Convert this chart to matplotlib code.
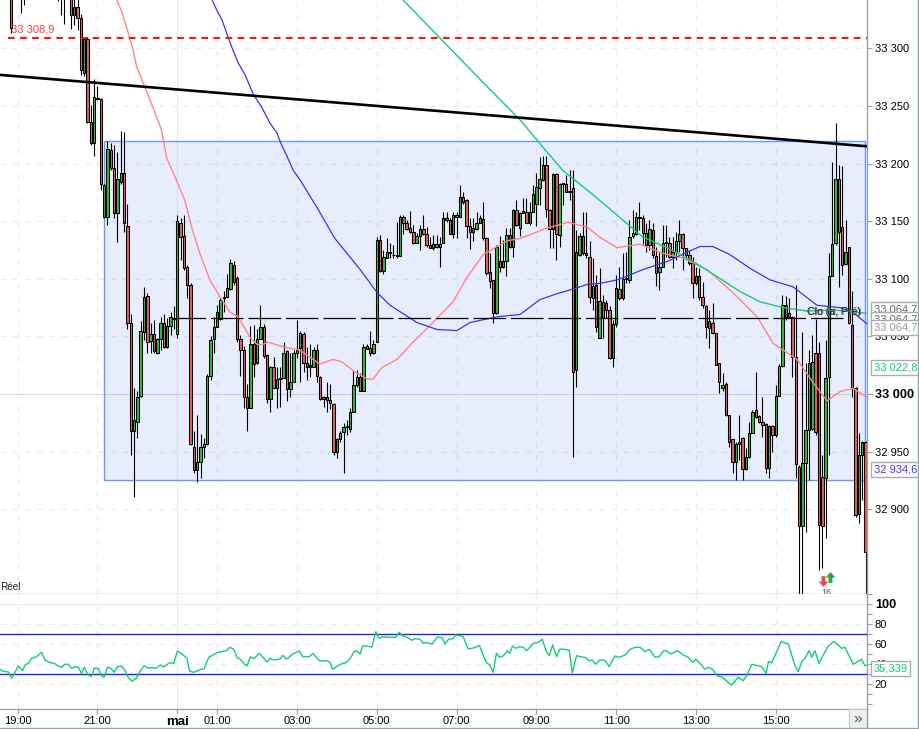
import matplotlib
matplotlib.use("Agg")
import matplotlib.pyplot as plt
from matplotlib.lines import Line2D
from matplotlib.patches import Rectangle
from matplotlib.path import Path
from matplotlib.ticker import FuncFormatter, MultipleLocator

plt.rcParams['font.family'] = ['Liberation Sans', 'DejaVu Sans']

# 5 minute bars, position in list = bar number
opens = [33350, 33355, 33360, 33360, 33360, 33360, 33360, 33360, 33360, 33360,
         33360, 33360, 33360, 33360, 33360, 33360, 33360, 33360, 33350, 33329,
         33336, 33326, 33279, 33308, 33236, 33218, 33257, 33256, 33154, 33154,
         33212, 33196, 33157, 33184, 33192, 33146, 33062, 32968, 32976, 32998,
         33054, 33085, 33046, 33052, 33036, 33048, 33062, 33041, 33059, 33066,
         33052, 33148, 33137, 33110, 33095, 32954, 32934, 32941, 32954, 32957,
         33016, 33048, 33058, 33065, 33083, 33084, 33091, 33112, 33101, 33048,
         33038, 32997, 32988, 33043, 33027, 33048, 33058, 33034, 32996, 33023,
         33005, 33014, 33014, 33037, 33004, 33010, 33036, 33040, 33052, 33027,
         33023, 33023, 33038, 33015, 32996, 32997, 32995, 32991, 32950, 32961,
         32967, 32972, 32970, 32984, 33008, 33015, 33003, 33042, 33040, 33036,
         33045, 33134, 33107, 33118, 33122, 33121, 33121, 33120, 33154, 33148,
         33144, 33141, 33131, 33137, 33143, 33139, 33129, 33127, 33128, 33130,
         33131, 33153, 33151, 33139, 33155, 33154, 33171, 33168, 33146, 33141,
         33143, 33148, 33152, 33135, 33106, 33099, 33070, 33115, 33110, 33115,
         33138, 33128, 33160, 33144, 33157, 33158, 33148, 33158, 33165, 33179,
         33186, 33199, 33160, 33143, 33191, 33138, 33182, 33182, 33175, 33179,
         33021, 33121, 33137, 33122, 33119, 33083, 33095, 33049, 33080, 33079,
         33073, 33031, 33061, 33091, 33083, 33100, 33099, 33137, 33139, 33154,
         33153, 33140, 33129, 33142, 33120, 33106, 33110, 33132, 33131, 33119,
         33123, 33133, 33139, 33127, 33121, 33114, 33096, 33102, 33084, 33076,
         33057, 33062, 33053, 33027, 33005, 33009, 32982, 32961, 32941, 32957,
         32962, 32935, 32945, 32966, 32986, 32981, 32976, 32974, 32936, 32972,
         32964, 32998, 33024, 33077, 33070, 33067, 33032, 32937, 32885, 32940,
         32969, 32970, 33036, 33036, 32928, 32927, 33015, 33102, 33131, 33187,
         33145, 33113, 33128, 33060, 33005, 32896, 32947, 32958]
closes = [33318, 33350, 33355, 33350, 33350, 33355, 33355, 33355, 33355, 33355,
          33355, 33355, 33355, 33355, 33355, 33355, 33355, 33355, 33329, 33336,
          33326, 33281, 33308, 33236, 33218, 33258, 33256, 33182, 33181, 33213,
          33196, 33157, 33187, 33192, 33148, 33062, 32968, 32977, 32997, 33055,
          33084, 33045, 33052, 33037, 33048, 33062, 33041, 33059, 33067, 33065,
          33150, 33136, 33109, 33095, 32957, 32934, 32941, 32954, 32957, 33016,
          33047, 33058, 33071, 33082, 33084, 33092, 33114, 33097, 33048, 33038,
          32997, 32988, 33043, 33026, 33048, 33058, 33033, 32996, 33023, 33005,
          33013, 33013, 33036, 33004, 33010, 33036, 33038, 33053, 33027, 33023,
          33025, 33038, 33016, 32996, 32997, 32995, 32992, 32950, 32961, 32966,
          32971, 32971, 32984, 33008, 33015, 33003, 33041, 33039, 33036, 33043,
          33134, 33107, 33119, 33123, 33123, 33121, 33120, 33154, 33148, 33143,
          33141, 33131, 33137, 33143, 33139, 33129, 33127, 33130, 33130, 33128,
          33153, 33151, 33139, 33155, 33154, 33171, 33167, 33146, 33141, 33144,
          33148, 33153, 33135, 33105, 33098, 33070, 33128, 33110, 33115, 33138,
          33128, 33160, 33147, 33157, 33159, 33148, 33158, 33174, 33180, 33187,
          33199, 33161, 33143, 33191, 33139, 33182, 33183, 33175, 33176, 33019,
          33123, 33137, 33122, 33121, 33084, 33094, 33058, 33081, 33067, 33073,
          33031, 33061, 33092, 33083, 33100, 33101, 33136, 33140, 33154, 33153,
          33140, 33129, 33143, 33121, 33105, 33110, 33131, 33131, 33119, 33123,
          33133, 33139, 33127, 33121, 33114, 33096, 33102, 33084, 33077, 33058,
          33063, 33053, 33025, 33010, 33008, 32982, 32958, 32941, 32957, 32958,
          32935, 32945, 32966, 32984, 32980, 32976, 32973, 32936, 32972, 32964,
          32998, 33024, 33077, 33067, 33067, 33032, 32939, 32885, 32940, 32969,
          33027, 33028, 32967, 32886, 32885, 33014, 33102, 33130, 33187, 33141,
          33112, 33123, 33062, 33005, 32895, 32947, 32958, 32863]
highs = [33360, 33370, 33370, 33370, 33370, 33370, 33370, 33370, 33370, 33370,
         33370, 33370, 33370, 33370, 33370, 33370, 33370, 33370, 33360, 33345,
         33345, 33330, 33310, 33310, 33251, 33273, 33267, 33257, 33182, 33220,
         33218, 33216, 33210, 33228, 33227, 33165, 33069, 33005, 33003, 33063,
         33093, 33088, 33062, 33064, 33049, 33067, 33069, 33066, 33071, 33076,
         33155, 33153, 33155, 33112, 33096, 32968, 32982, 32965, 32962, 33017,
         33050, 33067, 33077, 33083, 33089, 33104, 33117, 33115, 33102, 33051,
         33042, 33009, 33059, 33060, 33056, 33077, 33061, 33035, 33024, 33032,
         33023, 33023, 33045, 33038, 33036, 33038, 33064, 33055, 33054, 33041,
         33043, 33041, 33043, 33016, 32998, 33010, 33009, 32992, 32962, 32968,
         32975, 32977, 32988, 33020, 33021, 33018, 33043, 33043, 33055, 33047,
         33136, 33138, 33125, 33135, 33131, 33129, 33149, 33155, 33155, 33151,
         33159, 33147, 33140, 33147, 33155, 33145, 33136, 33138, 33138, 33136,
         33158, 33158, 33153, 33158, 33158, 33181, 33175, 33169, 33153, 33153,
         33158, 33155, 33167, 33136, 33122, 33099, 33129, 33137, 33134, 33144,
         33144, 33161, 33168, 33158, 33170, 33170, 33167, 33181, 33192, 33206,
         33207, 33207, 33161, 33192, 33192, 33183, 33183, 33190, 33194, 33194,
         33142, 33140, 33158, 33158, 33133, 33118, 33103, 33109, 33086, 33082,
         33076, 33064, 33103, 33110, 33122, 33123, 33151, 33160, 33158, 33167,
         33155, 33148, 33151, 33148, 33128, 33123, 33147, 33147, 33136, 33136,
         33141, 33151, 33140, 33127, 33125, 33119, 33110, 33109, 33097, 33077,
         33073, 33079, 33053, 33027, 33018, 33010, 32982, 32961, 32958, 32982,
         32963, 32953, 32976, 32986, 33019, 32982, 32997, 32975, 32973, 32973,
         33008, 33026, 33086, 33085, 33083, 33068, 33095, 32938, 33054, 33027,
         33038, 33051, 33065, 33045, 32947, 33047, 33122, 33201, 33235, 33199,
         33198, 33151, 33128, 33089, 33006, 32966, 32959, 32959]
lows = [33313, 33345, 33345, 33331, 33338, 33345, 33345, 33345, 33345, 33345,
        33345, 33345, 33345, 33345, 33341, 33329, 33321, 33345, 33317, 33320,
        33316, 33277, 33276, 33235, 33216, 33207, 33255, 33177, 33153, 33147,
        33194, 33153, 33132, 33182, 33141, 33056, 32947, 32911, 32962, 32997,
        33047, 33036, 33036, 33036, 33035, 33038, 33040, 33040, 33051, 33056,
        33049, 33116, 33108, 33083, 32956, 32931, 32924, 32927, 32944, 32956,
        33012, 33036, 33058, 33064, 33071, 33084, 33090, 33095, 33045, 33016,
        32988, 32968, 32988, 33015, 33026, 33048, 33031, 32992, 32984, 33005,
        32988, 32989, 33014, 32994, 32997, 33010, 33031, 33010, 33019, 33012,
        33015, 33023, 33010, 32995, 32989, 32984, 32987, 32947, 32944, 32958,
        32931, 32964, 32967, 32984, 33006, 33003, 33003, 33039, 33033, 33035,
        33045, 33106, 33104, 33118, 33118, 33118, 33118, 33120, 33139, 33142,
        33140, 33130, 33131, 33125, 33138, 33128, 33127, 33125, 33127, 33110,
        33131, 33149, 33139, 33135, 33135, 33154, 33165, 33135, 33126, 33133,
        33142, 33148, 33134, 33103, 33092, 33062, 33069, 33106, 33109, 33102,
        33127, 33119, 33146, 33137, 33157, 33148, 33147, 33158, 33146, 33164,
        33185, 33154, 33127, 33127, 33116, 33128, 33164, 33175, 33168, 32945,
        33006, 33120, 33121, 33118, 33079, 33073, 33054, 33049, 33049, 33066,
        33030, 33023, 33058, 33082, 33082, 33096, 33096, 33135, 33138, 33142,
        33130, 33123, 33125, 33118, 33094, 33090, 33110, 33119, 33118, 33109,
        33116, 33123, 33108, 33116, 33112, 33083, 33095, 33082, 33075, 33049,
        33040, 33052, 33025, 33001, 33003, 32981, 32954, 32931, 32925, 32943,
        32925, 32934, 32944, 32966, 32979, 32975, 32963, 32931, 32927, 32950,
        32963, 32998, 33023, 33064, 33066, 33015, 32927, 32821, 32821, 32880,
        32925, 32969, 32964, 32847, 32849, 32875, 32947, 33102, 33129, 33093,
        33103, 33112, 33061, 32997, 32893, 32888, 32908, 32821]

ma_red_bars = [31.8, 33.3, 35.3, 36.5, 37.8, 40.3, 42.8, 45.3, 46.8, 48.8, 52.3, 54.3, 56.8, 59.8, 62.9, 65.9, 68.3,
               71.9, 74, 75.8, 77.3, 81.8, 86.9, 92.9, 96.8, 99.5, 103.5, 107.1, 108.9, 111.6, 116.1, 120.9, 126.9,
               132.9, 137.1, 142, 149.2, 153.1, 161.2, 167.5, 173.2, 177.1, 182.3, 189.2, 196.1, 202.1, 209.3, 217.1,
               224.4, 229.2, 236.4, 241.2, 245.4, 249.3, 253.2, 257.4]
ma_red = [33342, 33332, 33313, 33301, 33284, 33266, 33248, 33229, 33205, 33192, 33168, 33145, 33122, 33099, 33084,
          33071, 33067, 33049, 33043, 33043, 33045, 33041, 33038, 33026, 33030, 33028, 33019, 33013, 33013, 33023,
          33030, 33045, 33062, 33080, 33101, 33121, 33133, 33135, 33144, 33149, 33145, 33136, 33127, 33130, 33122,
          33118, 33108, 33088, 33067, 33044, 33030, 33010, 32994, 33002, 33005, 32997]
ma_blue_bars = [60.5, 61.9, 63.4, 64.9, 66.4, 68.4, 70.4, 72.9, 75.4, 77.9, 79.9, 81.4, 82.9, 84.9, 86.9, 92, 97.4,
                105, 110.1, 114, 122.1, 128.1, 134.1, 138, 146.2, 153.1, 159.1, 164.2, 169, 173.2, 177.1, 182.3,
                190.1, 197.3, 203.3, 207.2, 211.1, 216.2, 222.3, 228.3, 235.2, 242.4, 249.3, 253.2, 257.4]
ma_blue = [33342, 33333, 33325, 33313, 33301, 33287, 33277, 33260, 33249, 33235, 33227, 33216, 33207, 33194, 33186,
           33162, 33135, 33108, 33088, 33077, 33062, 33056, 33055, 33062, 33067, 33069, 33082, 33087, 33091, 33095,
           33096, 33099, 33108, 33115, 33123, 33128, 33128, 33121, 33109, 33099, 33093, 33077, 33075, 33071, 33061]
ma_green_bars = [117.9, 129, 141.1, 153.1, 160.6, 166, 172, 177.1, 183.2, 190.1, 197.3, 205.1, 212.3, 219.2, 225.3,
                 232.2, 239.4, 247.2, 257.4]
ma_green = [33342, 33309, 33273, 33238, 33212, 33194, 33180, 33168, 33153, 33136, 33127, 33115, 33102, 33089, 33080,
            33075, 33072, 33073, 33070]

rsi_bars = [-3.3, -2.3, -0.8, 0.2, 2.2, 3.5, 4.2, 5.2, 6.2, 7.7, 9.2, 10.2, 11.7, 13, 14.2, 15.2, 16.2, 17.2, 18.2,
            19.2, 20.2, 21.2, 22, 23.2, 24.2, 25, 26.2, 27.2, 28, 29, 30, 31, 32, 33.2, 34.5, 35.2, 36.4, 37.7, 38.7,
            40, 41.2, 42.5, 43.7, 44.9, 45.9, 47.7, 49, 50, 51.2, 52.9, 53.7, 54.9, 56.2, 57.2, 58, 59.5, 60.7, 62.2,
            63.7, 64.7, 65.9, 67, 68, 69, 70.2, 71, 72, 73, 74.7, 77, 77.9, 79, 81, 81.7, 82.9, 84.7, 86.7, 87.7,
            89.7, 90.8, 92.7, 95.2, 96, 96.7, 98.2, 99.7, 100.7, 101.7, 103.2, 103.9, 105, 105.7, 107.2, 108.5, 109.7,
            110.7, 111.7, 113.7, 115.7, 116.7, 117.9, 119.2, 120.5, 121.7, 123, 124, 125.2, 126.7, 128.2, 129.7,
            130.5, 131.6, 132.9, 133.7, 135, 136, 137.5, 139, 140.9, 142.9, 144, 145, 146, 147, 148, 149.3, 150,
            150.8, 151.8, 152.9, 154.1, 155.1, 157.1, 158.6, 159.8, 160.9, 161.9, 162.9, 164.1, 165.1, 166.4, 167.9,
            168.8, 170.1, 171.3, 172.9, 173.9, 174.8, 175.8, 177.1, 178.6, 179.9, 181.6, 182.9, 184.7, 186.2, 187.7,
            189.2, 190.7, 192, 193.7, 194.9, 196.2, 197.2, 198.5, 200.5, 202.2, 203.7, 205, 205.9, 207.2, 208.7,
            209.7, 211, 212.4, 213.7, 216.7, 218.7, 220.2, 221.2, 222.8, 225.8, 227.1, 227.8, 228.8, 231.6, 233.8,
            235.8, 236.8, 237.8, 239, 240, 240.8, 241.8, 243, 245.6, 247.5, 249.8, 250.8, 253.3, 255.8, 256.8, 257.5]
rsi_values = [34.7, 32.7, 32, 25.7, 38, 33.3, 39, 40.7, 45.7, 47.3, 51.7, 44, 41.3, 40.7, 38, 36.7, 39.7, 39.7, 35.7,
              37.3, 36.7, 30.7, 36.7, 29, 27.7, 35.7, 35.7, 28.3, 26.7, 36.7, 35.7, 31.7, 37.3, 38, 32.3, 26.7, 22.7,
              25.7, 32.3, 38.3, 36, 36.3, 35.7, 39, 37, 41.3, 40.7, 53, 50.7, 45.7, 33, 31.7, 33.3, 34.7, 35, 46.7, 49,
              51.7, 52.7, 53.3, 56.7, 54.7, 46.3, 44.7, 39.7, 38.3, 47.3, 45.3, 50.7, 42, 45.7, 44, 45, 48.7, 44.7, 50,
              53, 47.3, 47.3, 50.7, 43.3, 43, 41.7, 34.7, 38, 40.7, 41.3, 44, 52.3, 53.3, 50, 58, 58, 56.7, 72.3, 65.7,
              67.3, 66.7, 66.7, 71.7, 68, 66.7, 63.7, 65.3, 64.7, 60.7, 61.3, 60, 67, 66.3, 60, 64.7, 65.3, 69, 68.3,
              67.3, 55, 56, 58.3, 41.7, 39, 31.7, 50.7, 46.7, 48, 53.3, 50.7, 58, 55.7, 57.3, 56.7, 53.3, 60.7, 61.7,
              64.7, 53.3, 48.3, 59, 47.3, 55, 54.7, 53.7, 31.3, 48.3, 47.3, 46.3, 43, 44, 39.7, 44, 43.7, 37.3, 48,
              46.7, 49, 54.7, 56.7, 56.7, 52.3, 54.7, 46.7, 47.3, 53, 53, 50, 53.3, 49, 46.7, 41.7, 44.7, 40.7, 34.7,
              36.7, 34.7, 28, 27.3, 18.7, 26.7, 23.3, 28, 39.7, 37.3, 30.7, 42.3, 41.3, 62.3, 60, 38, 32.3, 42.3, 46.7,
              53.3, 46.7, 53.3, 40.7, 57.3, 62.7, 55.7, 56.7, 39.7, 44.7, 38.3, 39]

time_ticks = [2, 26, 50, 62, 86, 110, 134, 158, 182, 206, 230]
time_labels = ['19:00', '21:00', 'mai', '01:00', '03:00', '05:00', '07:00', '09:00', '11:00', '13:00', '15:00']
price_ticks = [32900, 32950, 33000, 33050, 33100, 33150, 33200, 33250, 33300]

W, H = 919, 729
LINE_GRAY = '#9aa0a6'
GRID = '#ececec'
RED_BODY = '#e0605c'
GREEN_BODY = '#35b835'
MA_RED = '#ff8585'
MA_BLUE = '#3a32f0'
MA_GREEN = '#12cc78'

fig = plt.figure(figsize=(W / 100, H / 100), dpi=100)
ax = fig.add_axes([0, (H - 593.5) / H, 867 / W, 593.5 / H])
rsi = fig.add_axes([0, (H - 709) / H, 867 / W, (709 - 593.5) / H])


def fmt_price(v, pos=None):
    return f'{int(v):,}'.replace(',', ' ')


def setup_axes(a):
    a.set_xlim(-3.31, 257.44)
    for s in ['top', 'left']:
        a.spines[s].set_visible(False)
    for s in ['right', 'bottom']:
        a.spines[s].set_color(LINE_GRAY)
        a.spines[s].set_linewidth(1)
    a.yaxis.tick_right()
    a.set_xticks(time_ticks)
    a.set_axisbelow(True)
    a.grid(True, color=GRID, linestyle=(0, (5, 6)), linewidth=0.8)
    a.tick_params(axis='y', length=3.6, width=0.8, color=LINE_GRAY, labelsize=8, pad=2)
    # the month change gets a solid line
    a.get_xgridlines()[2].set_linestyle('-')


setup_axes(ax)
setup_axes(rsi)

# price pane
ax.set_ylim(32826.8, 33342)
ax.set_yticks(price_ticks)
ax.yaxis.set_major_formatter(FuncFormatter(fmt_price))
ax.tick_params(axis='x', length=0, labelbottom=False)
for tick, val in zip(ax.get_yticklabels(), price_ticks):
    if val == 33000:
        tick.set_fontweight('bold')
        tick.set_fontsize(9.2)
ax.get_ygridlines()[2].set_linestyle('-')
ax.get_ygridlines()[2].set_color('#dcdce4')

ax.add_patch(Rectangle((28.1, 32925), 256.7 - 28.1, 33220 - 32925, facecolor=(70 / 255, 120 / 255, 240 / 255, 0.13),
                       edgecolor='#6699ff', linewidth=1, zorder=1))

bars = list(range(len(opens)))
body_low = [min(o, c) for o, c in zip(opens, closes)]
body_size = [abs(c - o) for o, c in zip(opens, closes)]
colors = [GREEN_BODY if c >= o else RED_BODY for o, c in zip(opens, closes)]
ax.vlines(bars, lows, highs, color='black', linewidth=0.8, zorder=2)
ax.bar(bars, body_size, bottom=body_low, width=0.72, color=colors, edgecolor='black', linewidth=0.75, zorder=3)

ax.plot(ma_red_bars, ma_red, color=MA_RED, linewidth=1, zorder=4)
ax.plot(ma_blue_bars, ma_blue, color=MA_BLUE, linewidth=0.9, zorder=4)
ax.plot(ma_green_bars, ma_green, color=MA_GREEN, linewidth=1, zorder=4)

ax.plot([-3.31, 257.44], [33277, 33215], color='black', linewidth=1.9, zorder=6)
ax.plot([-0.9, 257.44], [33308.9, 33308.9], color='#ff1111', linewidth=1.5, linestyle=(0, (3.2, 2.6)), zorder=6)
ax.plot([48.7, 250.8], [33065.7, 33065.7], color='black', linewidth=0.9, linestyle=(0, (26, 4)), zorder=5)

ax.text(0, 33316, '33 308,9', color='#ff3c3c', fontsize=8, ha='left', va='center', zorder=7)
ax.text(239.6, 33071, 'Clo (d, Pré)', color='#777777', fontsize=7.6, ha='left', va='center', zorder=7)
ax.text(239.3, 33071, 'Clo (a, Pré)', color='#222222', fontsize=7.6, ha='left', va='center', zorder=7)

# signal arrows, clipped count below them
up_arrow = Path([(-0.18, -0.5), (0.18, -0.5), (0.18, 0), (0.45, 0), (0, 0.5), (-0.45, 0), (-0.18, 0), (-0.18, -0.5)])
down_arrow = Path([(-0.18, 0.5), (0.18, 0.5), (0.18, 0), (0.45, 0), (0, -0.5), (-0.45, 0), (-0.18, 0), (-0.18, 0.5)])
ax.scatter([244.2], [32838], marker=down_arrow, s=60, color='#e84a4a', linewidths=0, zorder=7)
ax.scatter([246.4], [32841], marker=up_arrow, s=60, color='#22aa33', linewidths=0, zorder=7)
ax.text(245.3, 32828, '16', fontsize=6.3, color='#555555', ha='center', va='center', clip_on=True, zorder=7)

# value boxes on the price scale
box_style = dict(facecolor='white', edgecolor='#a8adb3', boxstyle='square,pad=0.22', linewidth=1)
yax = ax.get_yaxis_transform()
labels_text = ['33 064,7', '33 064,7', '33 064,7', '33 022,8', '32 934,6']
labels_price = [33073, 33065, 33058, 33022.8, 32934.6]
labels_color = ['#666666', '#666666', '#999999', '#12c878', '#4a30f0']
for txt, p, col in zip(labels_text, labels_price, labels_color):
    ax.text(1.0075, p, txt, transform=yax, color=col, fontsize=8, ha='left', va='center', bbox=box_style,
            clip_on=False, zorder=10)

# oscillator pane
rsi.set_ylim(-5, 110.5)
rsi.set_yticks([20, 40, 60, 80, 100])
rsi.yaxis.set_minor_locator(MultipleLocator(10))
rsi.tick_params(axis='y', which='minor', length=3.6, width=0.8, color=LINE_GRAY)
for tick, val in zip(rsi.get_yticklabels(), [20, 40, 60, 80, 100]):
    if val == 100:
        tick.set_fontweight('bold')
        tick.set_fontsize(9.2)
rsi.set_xticklabels(time_labels)
rsi.tick_params(axis='x', length=3.6, width=0.8, color=LINE_GRAY, labelsize=8, pad=1.5)
rsi.get_xticklabels()[2].set_fontweight('bold')
rsi.get_xticklabels()[2].set_fontsize(9.5)
rsi.get_ygridlines()[4].set_linestyle('-')

rsi.axhline(70, color='#2222dd', linewidth=1, zorder=3)
rsi.axhline(30, color='#2222dd', linewidth=1, zorder=3)
rsi.fill_between(rsi_bars, rsi_values, 30, where=[v < 30 for v in rsi_values], interpolate=True, color=MA_GREEN,
                 alpha=0.15, linewidth=0, zorder=2)
rsi.fill_between(rsi_bars, rsi_values, 70, where=[v > 70 for v in rsi_values], interpolate=True, color=MA_GREEN,
                 alpha=0.15, linewidth=0, zorder=2)
rsi.plot(rsi_bars, rsi_values, color=MA_GREEN, linewidth=1, zorder=4)
rsi.text(1.0075, 35.339, '35,339', transform=rsi.get_yaxis_transform(), color='#12c878', fontsize=8, ha='left',
         va='center', bbox=box_style, clip_on=False, zorder=10)

fig.text(0, (H - 587) / H, 'Réel', fontsize=7.2, color='#222222', ha='left', va='center')

# window frame and scroll button
fig.add_artist(Line2D([0, 1], [(H - 728) / H] * 2, color=LINE_GRAY, linewidth=1))
fig.add_artist(Line2D([918 / W] * 2, [0, 1], color=LINE_GRAY, linewidth=1))
fig.add_artist(Line2D([867 / W] * 2, [0, (H - 709) / H], color=LINE_GRAY, linewidth=1))
fig.add_artist(Rectangle((849 / W, 1 / H), 18 / W, 19 / H, transform=fig.transFigure, facecolor='#efefef',
                         edgecolor='#c4c8cc', linewidth=0.8))
fig.text(858 / W, (H - 719) / H, '»', fontsize=11, color='#555555', ha='center', va='center')

fig.savefig('out.png', dpi=100)
